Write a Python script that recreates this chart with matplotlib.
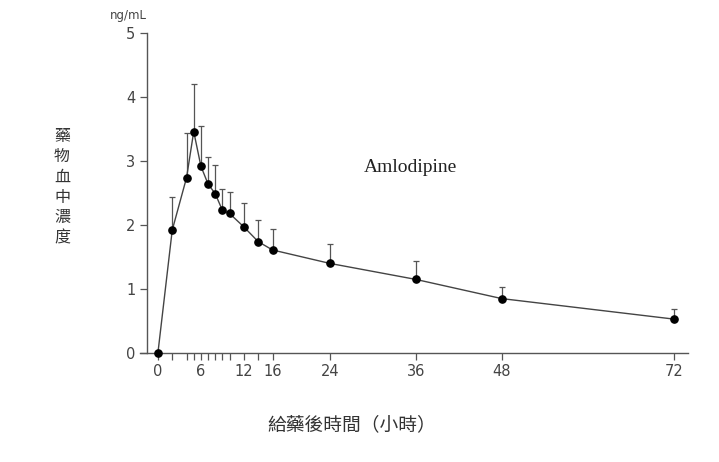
import matplotlib.pyplot as plt

# Sampling times (hours) and mean concentration (ng/mL) with upper SD
hours = [0, 2, 4, 5, 6, 7, 8, 9, 10, 12, 14, 16, 24, 36, 48, 72]
conc = [0, 1.92, 2.74, 3.46, 2.92, 2.64, 2.49, 2.23, 2.18, 1.97, 1.74, 1.61, 1.40, 1.15, 0.85, 0.53]
upper = [0, 2.44, 3.44, 4.20, 3.54, 3.07, 2.93, 2.57, 2.52, 2.34, 2.08, 1.94, 1.71, 1.43, 1.03, 0.69]
xtick_labels = [0, 6, 12, 16, 24, 36, 48, 72]
yticks = [0, 1, 2, 3, 4, 5]

grey = '#555555'
cjk = ['Noto Sans CJK TC', 'DejaVu Sans']

fig = plt.figure(figsize=(7.19, 4.62), dpi=100)
ax = fig.add_axes([140 / 719, 109 / 462, 548 / 719, 320 / 462])

err = [[0] * len(conc), [u - c for u, c in zip(upper, conc)]]
ax.errorbar(hours, conc, yerr=err, fmt='none', ecolor=grey, elinewidth=0.9,
            capsize=2.5, capthick=0.9, clip_on=False, zorder=2)
ax.plot(hours, conc, color='#444444', lw=1.0, marker='o', ms=5.2,
        mfc='black', mec='black', clip_on=False, zorder=3)

ax.set_xlim(-2.5, 74)
ax.set_ylim(0, 5)

for s in ['top', 'right']:
    ax.spines[s].set_visible(False)
ax.spines['left'].set_position(('data', -1.5))
ax.spines['left'].set_color(grey)
ax.spines['bottom'].set_color(grey)
ax.spines['left'].set_linewidth(1.0)
ax.spines['bottom'].set_linewidth(1.0)

ax.set_xticks(hours[1:12], minor=True)
ax.set_xticks(xtick_labels)
ax.set_xticklabels([str(t) for t in xtick_labels])
ax.set_yticks(yticks)
ax.tick_params(axis='both', colors=grey, labelcolor='#444444', labelsize=10.5,
               length=5, width=0.9)
ax.tick_params(axis='x', which='minor', colors=grey, length=5, width=0.9)
ax.tick_params(axis='x', pad=3)

fig.text(110 / 719, 1 - 16 / 462, 'ng/mL', fontsize=8.5, color='#444444',
         va='center', ha='left')
ax.text(35.3, 2.9, 'Amlodipine', fontsize=14,
        family='Liberation Serif', ha='center', va='center', color='#222222')

fig.text(62 / 719, 1 - 187 / 462, '藥\n物\n血\n中\n濃\n度', fontsize=11.5,
         family=cjk, ha='center', va='center', linespacing=1.25, color='#333333')
fig.text(352 / 719, 1 - 425 / 462, '給藥後時間（小時）', fontsize=13.5,
         family=cjk, ha='center', va='center', color='#333333')

plt.savefig('out.png', dpi=100)
